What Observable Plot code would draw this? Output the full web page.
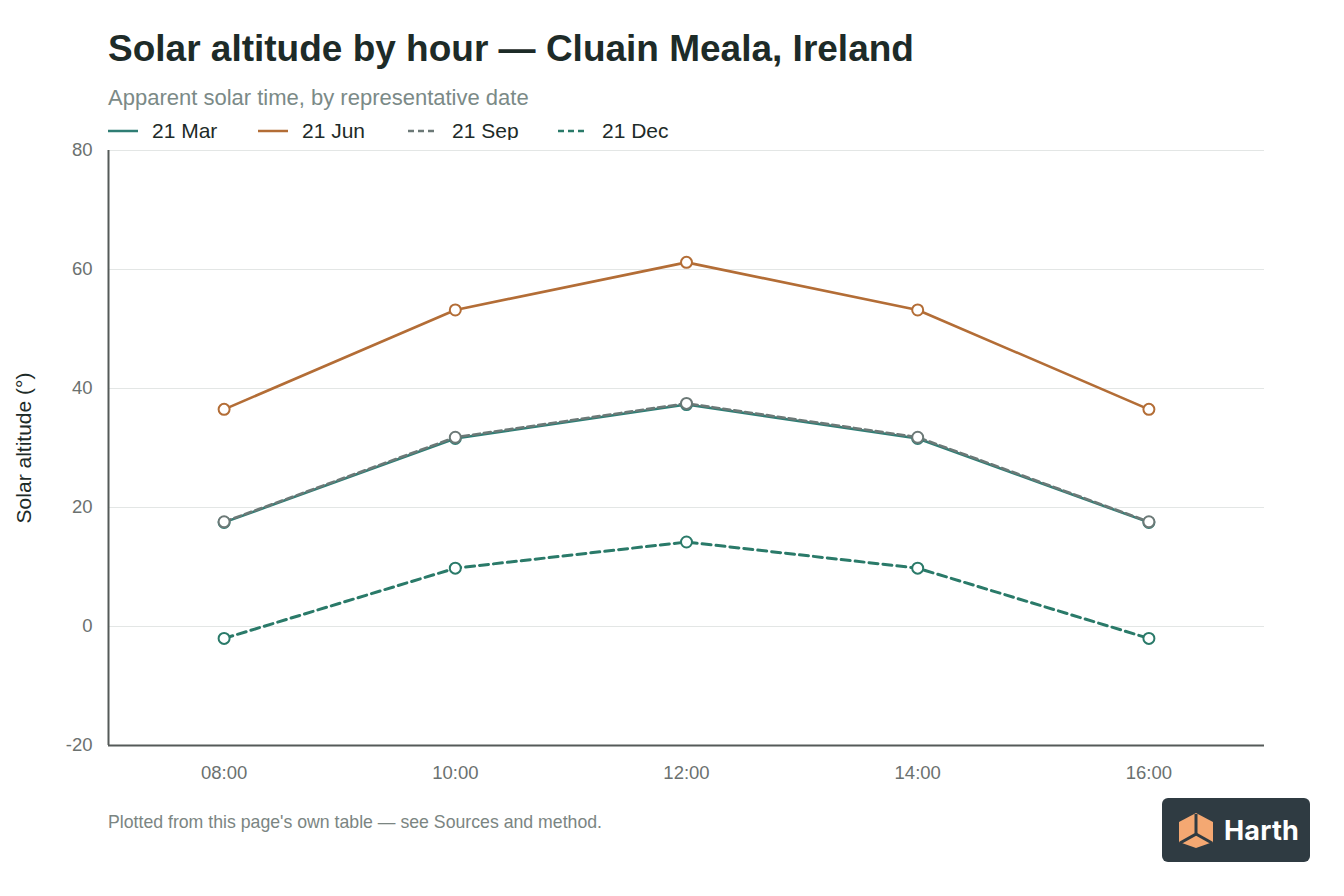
<!DOCTYPE html>
<html>
<head>
<meta charset="utf-8">
<script src="https://cdn.jsdelivr.net/npm/d3@7"></script>
<script src="https://cdn.jsdelivr.net/npm/@observablehq/plot@0.6"></script>
<style>
  html, body { margin: 0; padding: 0; background: #ffffff; }
  body { width: 1344px; height: 896px; position: relative; overflow: hidden; font-family: "Liberation Sans", Arial, sans-serif; }
  #title { position: absolute; left: 108px; top: 28px; font-size: 37px; font-weight: 700; color: #1d2b28; white-space: nowrap; }
  #subtitle { position: absolute; left: 108px; top: 85px; font-size: 22px; color: #7b8a87; white-space: nowrap; }
  #legend { position: absolute; left: 108px; top: 118px; height: 26px; font-size: 21px; color: #1d2b28; white-space: nowrap; }
  .li { position: absolute; top: 0; display: flex; align-items: center; height: 26px; }
  .li svg { margin-right: 14px; }
  #chart { position: absolute; left: 0; top: 140px; }
  #footer { position: absolute; left: 108px; top: 812px; font-size: 17.7px; color: #7b8582; white-space: nowrap; }
  #logo { position: absolute; left: 1162px; top: 798px; width: 148px; height: 64px; background: #2f3b42; border-radius: 6px; display: flex; align-items: center; }
  #logo span { color: #ffffff; font-family: "Inter", "Liberation Sans", sans-serif; font-weight: 700; font-size: 27px; margin-left: 8px; letter-spacing: 0.2px; }
</style>
</head>
<body>
<div id="title">Solar altitude by hour — Cluain Meala, Ireland</div>
<div id="subtitle">Apparent solar time, by representative date</div>
<div id="legend"></div>
<div id="chart"></div>
<div id="footer">Plotted from this page's own table — see Sources and method.</div>
<div id="logo">
  <svg width="40" height="40" viewBox="0 0 40 40" style="margin-left:14px">
    <polygon points="20,3 37,12 37,32 20,38 3,32 3,12" fill="#f4a872"/>
    <polyline points="20,4 20,24 4,33" fill="none" stroke="#2f3b42" stroke-width="3"/>
    <polyline points="20,24 36,33" fill="none" stroke="#2f3b42" stroke-width="3"/>
  </svg>
  <span>Harth</span>
</div>
<script>
// ---- data ----
const hours = [8, 10, 12, 14, 16];
const hourLabels = ["08:00", "10:00", "12:00", "14:00", "16:00"];
const seriesNames = ["21 Mar", "21 Jun", "21 Sep", "21 Dec"];
const mar = [17.5, 31.6, 37.3, 31.6, 17.5];
const jun = [36.5, 53.2, 61.2, 53.2, 36.5];
const sep = [17.6, 31.8, 37.5, 31.8, 17.6];
const dec = [-2.0, 9.8, 14.2, 9.8, -2.0];
const yTicks = [-20, 0, 20, 40, 60, 80];

// ---- styles ----
const colors = {"21 Mar": "#2f7d74", "21 Jun": "#b36d36", "21 Sep": "#6c7977", "21 Dec": "#2a7a69"};
const dashes = {"21 Mar": null, "21 Jun": null, "21 Sep": "7,4", "21 Dec": "9,5"};
const widths = {"21 Mar": 2.6, "21 Jun": 2.6, "21 Sep": 2.6, "21 Dec": 3};

const valuesBySeries = [mar, jun, sep, dec];
const rows = [];
seriesNames.forEach((s, i) => hours.forEach((h, j) => rows.push({series: s, hour: h, alt: valuesBySeries[i][j]})));

// legend
const legend = document.getElementById("legend");
const legendX = [0, 150, 300, 450];
seriesNames.forEach((s, i) => {
  const d = document.createElement("div");
  d.className = "li";
  d.style.left = legendX[i] + "px";
  const dash = (s === "21 Sep" || s === "21 Dec") ? "6,4" : "";
  d.innerHTML = `<svg width="30" height="6"><line x1="0" y1="3" x2="30" y2="3" stroke="${colors[s]}" stroke-width="2.5" ${dash ? `stroke-dasharray="${dash}"` : ""}/></svg><span>${s}</span>`;
  legend.appendChild(d);
});

const marks = [
  Plot.gridY(yTicks.filter(t => t > -20), {stroke: "#e3e6e5", strokeOpacity: 1, strokeWidth: 1}),
  Plot.axisY(yTicks, {
    tickSize: 0, tickPadding: 16, fontSize: 18.5, fill: "#6b716f",
    tickFormat: (d) => String(d),
    label: "Solar altitude (°)", labelAnchor: "center", labelArrow: "none", labelOffset: 92
  }),
  Plot.axisX(hours, {
    tickSize: 0, tickPadding: 20, fontSize: 18.5, fill: "#6b716f",
    tickFormat: (d) => hourLabels[hours.indexOf(d)], label: null
  }),
  Plot.ruleX([7], {stroke: "#555a59", strokeWidth: 2}),
  Plot.ruleY([-20], {stroke: "#555a59", strokeWidth: 2})
];
seriesNames.forEach(s => {
  marks.push(Plot.line(rows.filter(r => r.series === s), {
    x: "hour", y: "alt", stroke: colors[s], strokeWidth: widths[s],
    strokeDasharray: dashes[s] || undefined, strokeLinejoin: "round"
  }));
});
seriesNames.forEach(s => {
  marks.push(Plot.dot(rows.filter(r => r.series === s), {
    x: "hour", y: "alt", r: 5.5, fill: "#ffffff", stroke: colors[s], strokeWidth: 2
  }));
});

const chart = Plot.plot({
  width: 1344,
  height: 660,
  marginLeft: 108,
  marginRight: 80,
  marginTop: 10,
  marginBottom: 55,
  style: {fontFamily: "Liberation Sans, Arial, sans-serif", fontSize: "18px", color: "#1d2b28", background: "#ffffff"},
  x: {domain: [7, 17]},
  y: {domain: [-20, 80]},
  marks
});
document.getElementById("chart").appendChild(chart);

// style the y-axis label
d3.select(chart).selectAll("g[aria-label='y-axis label'] text").attr("fill", "#1d2b28").style("font-size", "21px");
</script>
</body>
</html>
